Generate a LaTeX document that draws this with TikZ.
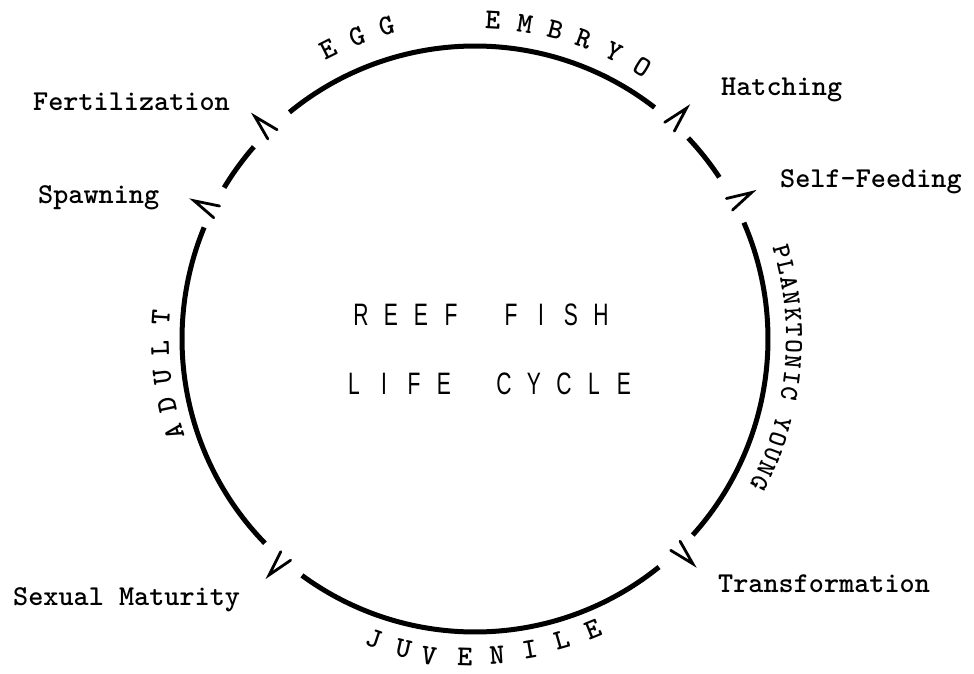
\documentclass[tikz,border=0pt]{standalone}
\usepackage{fontspec}
\newfontfamily\titlefont{Liberation Sans}
\newcommand\lbfont{\ttfamily\bfseries\fontsize{28.8}{30}\selectfont}
\newcommand\smfont{\ttfamily\bfseries\fontsize{26}{27}\selectfont}
\newcommand\tl[1]{\makebox[30pt]{\scalebox{0.68}[1]{#1}}}
\tikzset{
  ring/.style={line width=5pt, black},
  chev/.style={line width=2.8pt, line join=miter, line cap=round},
  lbl/.style={font=\lbfont, inner sep=0pt, anchor=base west},
  arcletter/.style={font=\lbfont, inner sep=0pt},
  tightletter/.style={font=\smfont, inner sep=0pt},
  title/.style={font=\titlefont\fontsize{31}{32}\selectfont, inner sep=0pt, anchor=base},
}
\begin{document}
\begin{tikzpicture}[x=1pt,y=1pt]
\useasboundingbox (0,0) rectangle (974,673);
\fill[white] (0,0) rectangle (974,673);
\coordinate (O) at (475,334);
% ring segments
\foreach \a/\b in {129.3/52.2, 43.3/33.5, 23.4/-42, -51.1/-126.2, -135.8/-202.4, 148.9/139}
  \draw[ring] (O) ++(\a:293) arc[start angle=\a, end angle=\b, radius=293];
% chevrons
\foreach \p in {134.7,153.8,47.5,27.9,-45.9,-131.1}
  \draw[chev] ([shift={(\p-1.3:288)}]O) -- ([shift={(\p:313)}]O) -- ([shift={(\p+1.3:288)}]O);
% stage labels
\node[lbl] (fert) at (33,562) {Fertilization};
\node[lbl] (spawn) at (38,469) {Spawning};
\node[lbl] (hatch) at (721,577) {Hatching};
\node[lbl] (self) at (780,485) {Self-Feeding};
\node[lbl] (trans) at (718,81) {Transformation};
\node[lbl] (sex) at (13,68) {Sexual Maturity};
% title
\node[title] (t1) at (481,348) {\tl{R}\tl{E}\tl{E}\tl{F}\tl{ }\tl{F}\tl{I}\tl{S}\tl{H}};
\node[title] (t2) at (489,278.5) {\tl{L}\tl{I}\tl{F}\tl{E}\tl{ }\tl{C}\tl{Y}\tl{C}\tl{L}\tl{E}};
% curved phase names (tops outward)
\foreach \a/\c in {116.8/E,111.3/G,105.8/G}
  \node[arcletter, rotate=\a-90] at ([shift={(\a:325)}]O) {\c};
\foreach \a/\c in {86.8/E,81/M,75.4/B,70.1/R,64.2/Y,58.4/O}
  \node[arcletter, rotate=\a-90] at ([shift={(\a:319)}]O) {\c};
\foreach \a/\c in {15.8/P,12.95/L,10.1/A,7.25/N,4.4/K,1.55/T,-1.3/O,-4.15/N,-7.0/I,-9.85/C,-15.55/Y,-18.4/O,-21.25/U,-24.1/N,-26.95/G}
  \node[tightletter, rotate=\a-90] at ([shift={(\a:319)}]O) {\c};
\foreach \a/\c in {197.2/A,192.1/D,187/U,181.7/L,176.1/T}
  \node[arcletter, rotate=\a-90] at ([shift={(\a:315)}]O) {\c};
% juvenile (tops inward)
\foreach \a/\r/\c in {-108.7/316/J,-103/318/U,-98.3/320/V,-91.8/318/E,-86/317/N,-80/315/I,-73.9/313/L,-67.9/314/E}
  \node[arcletter, rotate=\a+90] at ([shift={(\a:\r)}]O) {\c};
\end{tikzpicture}
\end{document}
